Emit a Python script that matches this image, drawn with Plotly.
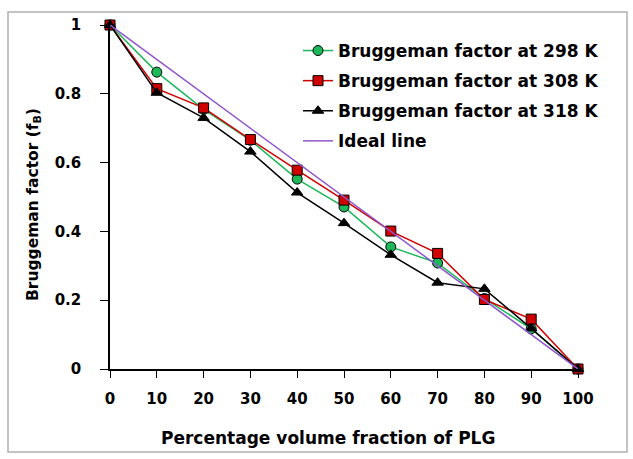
import plotly.graph_objects as go

x_vals = [0, 10, 20, 30, 40, 50, 60, 70, 80, 90, 100]
f_298 = [1.0, 0.863, 0.755, 0.665, 0.552, 0.471, 0.355, 0.308, 0.205, 0.117, 0.0]
f_308 = [1.0, 0.815, 0.759, 0.667, 0.578, 0.491, 0.401, 0.336, 0.202, 0.145, 0.0]
f_318 = [1.0, 0.803, 0.730, 0.632, 0.513, 0.424, 0.332, 0.251, 0.233, 0.118, 0.0]
ideal = [1.0, 0.9, 0.8, 0.7, 0.6, 0.5, 0.4, 0.3, 0.2, 0.1, 0.0]
y_ticks = [0, 0.2, 0.4, 0.6, 0.8, 1]
y_ticktext = ["0", "0.2", "0.4", "0.6", "0.8", "1"]

names = ["Bruggeman factor at 298 K", "Bruggeman factor at 308 K",
         "Bruggeman factor at 318 K", "Ideal line"]
x_title = "<b>Percentage volume fraction of PLG</b>"
y_title = "<b>Bruggeman factor (f<sub>B</sub>)</b>"

FONT = "DejaVu Sans"

fig = go.Figure()
fig.add_trace(go.Scatter(x=x_vals, y=f_298, name=names[0], mode="lines+markers",
                         line=dict(color="#1cb85a", width=1.5),
                         marker=dict(symbol="circle", size=10, color="#1cb85a",
                                     line=dict(color="black", width=1)),
                         legendgroup="a", cliponaxis=False))
fig.add_trace(go.Scatter(x=x_vals, y=f_308, name=names[1], mode="lines+markers",
                         line=dict(color="#d00000", width=1.5),
                         marker=dict(symbol="square", size=10, color="#d00000",
                                     line=dict(color="black", width=1)),
                         legendgroup="b", cliponaxis=False))
fig.add_trace(go.Scatter(x=x_vals, y=f_318, name=names[2], mode="lines+markers",
                         line=dict(color="black", width=1.5),
                         marker=dict(symbol="triangle-up", size=10, color="black",
                                     line=dict(color="black", width=1)),
                         legendgroup="c", cliponaxis=False))
fig.add_trace(go.Scatter(x=x_vals, y=ideal, name=names[3], mode="lines",
                         line=dict(color="#9055cc", width=1.5),
                         legendgroup="d", cliponaxis=False))

W, H = 633, 459
L, R, T, B = 110, 55, 25, 90
pw, ph = W - L - R, H - T - B

def px(xp):
    return (xp - L) / pw

def py(yp):
    return (H - B - yp) / ph

fig.update_layout(
    width=W, height=H,
    margin=dict(l=L, r=R, t=T, b=B),
    paper_bgcolor="white", plot_bgcolor="white",
    font=dict(family=FONT, color="black", size=13),
    showlegend=True,
    legend=dict(x=px(298), y=py(33), xanchor="left", yanchor="top",
                bgcolor="rgba(0,0,0,0)", font=dict(size=17, family=FONT, weight="bold"),
                tracegroupgap=5, traceorder="grouped"),
    xaxis=dict(range=[0, 100], tickmode="array", tickvals=x_vals,
               ticktext=[str(v) for v in x_vals],
               showgrid=False, zeroline=False, showline=True, linecolor="black",
               linewidth=1.5, ticks="outside", ticklen=7, tickcolor="black",
               ticklabelstandoff=8,
               tickfont=dict(size=15, family=FONT, weight="bold")),
    yaxis=dict(range=[0, 1], tickmode="array", tickvals=y_ticks,
               ticktext=y_ticktext,
               showgrid=False, zeroline=False, showline=True, linecolor="black",
               linewidth=1.5, ticks="outside", ticklen=8, tickcolor="black",
               ticklabelstandoff=16,
               tickfont=dict(size=15, family=FONT, weight="bold")),
    annotations=[
        dict(text=x_title, xref="paper", yref="paper", x=px(328), y=py(438),
             xanchor="center", yanchor="middle", showarrow=False,
             font=dict(size=17, family=FONT)),
        dict(text=y_title, xref="paper", yref="paper", x=px(34), y=py(205),
             xanchor="center", yanchor="middle", showarrow=False, textangle=-90,
             font=dict(size=15.5, family=FONT)),
    ],
    shapes=[dict(type="rect", xref="paper", yref="paper",
                 x0=px(8), x1=px(627), y0=py(452), y1=py(12),
                 line=dict(color="#b0b0b0", width=1.5), layer="below")],
)

fig.write_html("out.html")
